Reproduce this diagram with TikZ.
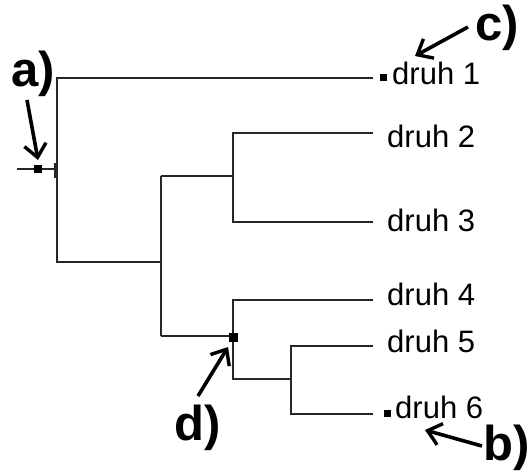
\documentclass[tikz,border=0pt]{standalone}
\usepackage{fontspec}
\setmainfont{Liberation Sans}
\usetikzlibrary{arrows.meta}
\tikzset{
  branch/.style={draw=black!85, line width=1.5pt},
  taxon/.style={anchor=base west, inner sep=0pt, font=\fontsize{31}{31}\selectfont},
  lbl/.style={inner sep=0pt, font=\fontsize{49}{49}\selectfont\bfseries},
  pointer/.style={draw=black, line width=3.6pt, -{Straight Barb[length=13pt,width=22pt,line width=3.4pt]}},
  marker/.style={fill=black, inner sep=0pt, minimum size=#1},
}
\begin{document}
\begin{tikzpicture}[x=1pt,y=-1pt]
\useasboundingbox (0,0) rectangle (529,472);
% coordinates of the tree
\coordinate (r0) at (17,169);
\coordinate (r1) at (57,169);
\coordinate (rt) at (57,78);
\coordinate (rb) at (57,262);
\coordinate (t1) at (373,78);
\coordinate (n1b) at (161,262);
\coordinate (n1t) at (161,176);
\coordinate (n1d) at (161,336);
\coordinate (n2) at (233,176);
\coordinate (n2t) at (233,133);
\coordinate (n2b) at (233,222);
\coordinate (t2) at (373,133);
\coordinate (t3) at (373,222);
\coordinate (n3) at (233,336);
\coordinate (n3t) at (233,300);
\coordinate (n3b) at (233,379);
\coordinate (t4) at (373,300);
\coordinate (n4) at (291,379);
\coordinate (n4t) at (291,346);
\coordinate (n4b) at (291,414);
\coordinate (t5) at (373,346);
\coordinate (t6) at (373,414);
% branches
\draw[branch] (r0) -- (r1);
\draw[branch] (55,163) -- (55,178);
\draw[branch] (t1) -- (rt) -- (rb) -- (n1b);
\draw[branch] (n1t) -- (n1d);
\draw[branch] (n1t) -- (n2);
\draw[branch] (t2) -- (n2t) -- (n2b) -- (t3);
\draw[branch] (n1d) -- (n3);
\draw[branch] (t4) -- (n3t) -- (n3b) -- (n4);
\draw[branch] (t5) -- (n4t) -- (n4b) -- (t6);
% markers
\node[marker=8pt] (ma) at (38,169) {};
\node[marker=9pt] (md) at (233,337) {};
\node[marker=7pt] (mc) at (383,77) {};
\node[marker=7pt] (mb) at (387,413) {};
% taxa
\node[taxon] (d1) at (392,84) {druh 1};
\node[taxon] (d2) at (387,147) {druh 2};
\node[taxon] (d3) at (387,231) {druh 3};
\node[taxon] (d4) at (387,305) {druh 4};
\node[taxon] (d5) at (387,352) {druh 5};
\node[taxon] (d6) at (395,418) {druh 6};
% labels
\node[lbl] (la) at (33,74) {a)};
\node[lbl] (lb) at (507,448) {b)};
\node[lbl] (lc) at (497,28) {c)};
\node[lbl] (ld) at (198,428) {d)};
\coordinate (pa) at (27,100);
\coordinate (pb) at (482,446);
\coordinate (pc) at (468,27);
\coordinate (pd) at (198,396);
\draw[pointer] (pa) -- (38,160);
\draw[pointer] (pb) -- (425,430);
\draw[pointer] (pc) -- (415,56);
\draw[pointer] (pd) -- (228,347);
\end{tikzpicture}
\end{document}
